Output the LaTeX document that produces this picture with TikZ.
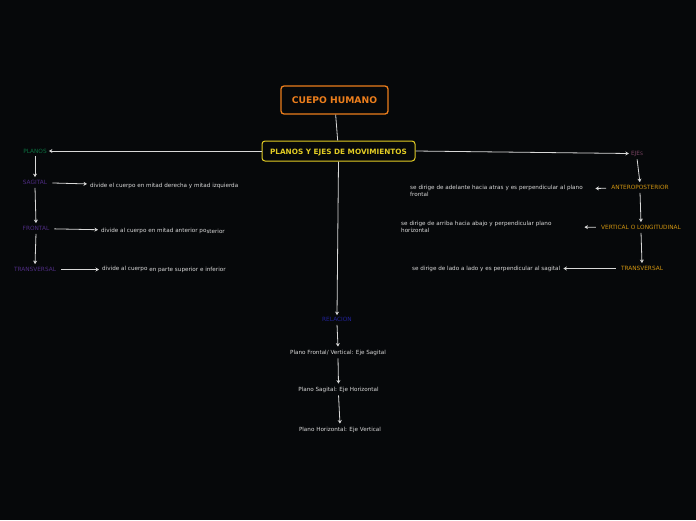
\documentclass[tikz,border=0pt]{standalone}
\usepackage{fontspec}
\setmainfont{DejaVu Sans}
\usepackage{tikz}
\usetikzlibrary{arrows.meta, positioning}

\definecolor{bgdark}{HTML}{06080A}
\definecolor{orangeT}{HTML}{EC7E1C}
\definecolor{yellowT}{HTML}{E2CC24}
\definecolor{greenT}{HTML}{0B7040}
\definecolor{purpleT}{HTML}{4E2C82}
\definecolor{mauveT}{HTML}{7A4462}
\definecolor{goldT}{HTML}{D09410}
\definecolor{blueT}{HTML}{22229A}
\definecolor{greyT}{HTML}{D8D8D8}

\begin{document}
\begin{tikzpicture}[
    x=1pt, y=-1pt,
    every node/.style={align=center, inner sep=2pt},
    title/.style={draw=orangeT, line width=1.3pt, rounded corners=3pt, text=orangeT, font=\fontsize{9.2}{10}\selectfont\bfseries, minimum width=107pt, minimum height=28pt},
    topic/.style={draw=yellowT, line width=1pt, rounded corners=3pt, text=yellowT, font=\fontsize{7.3}{8}\selectfont\bfseries, minimum width=153pt, minimum height=20pt, text height=6pt, text depth=0pt},
    lbl/.style={font=\fontsize{5.8}{7}\selectfont, yshift=-1pt},
    desc/.style={text=greyT, font=\fontsize{5.65}{7}\selectfont, align=left, yshift=-1pt},
    arrow/.style={-{Stealth[length=3.5pt,width=4pt]}, greyT, line width=0.8pt},
    link/.style={greyT, line width=0.8pt}
]
    % Background
    \fill[bgdark] (0,0) rectangle (696,520);
    \useasboundingbox (0,0) rectangle (696,520);

    % Main
    \node[title] (cuerpo) at (334.5,100) {CUEPO HUMANO};
    \node[topic] (planosejes) at (338.5,151) {PLANOS Y EJES DE MOVIMIENTOS};
    \draw[link] (cuerpo) -- (planosejes);

    % Planos
    \node[lbl, text=greenT] (planos) at (35,150) {PLANOS};
    \node[lbl, text=purpleT] (sagital) at (35,181.5) {SAGITAL};
    \node[lbl, text=purpleT] (frontal) at (36,227.5) {FRONTAL};
    \node[lbl, text=purpleT] (transv) at (35,268.5) {TRANSVERSAL};

    \node[desc, anchor=west] (sag_d) at (88,185) {divide el cuerpo en mitad derecha y mitad izquierda};
    \node[desc, anchor=west] (fro_d) at (99,230) {divide al cuerpo en mitad anterior po\raisebox{-0.8pt}{sterior}};
    \node[desc, anchor=west] (tra_d) at (100,268.5) {divide al cuerpo \raisebox{-0.6pt}{en parte superior e inferior}};

    % Ejes
    \node[lbl, text=mauveT] (ejes) at (637,152.5) {EJE{\fontsize{4.6}{5}\selectfont S}};
    \node[lbl, text=goldT] (antero) at (640,186.5) {ANTEROPOSTERIOR};
    \node[lbl, text=goldT] (vertical) at (641,226.5) {VERTICAL O LONGITUDINAL};
    \node[lbl, text=goldT] (transe) at (642,267.5) {TRANSVERSAL};

    \node[desc, anchor=west, text width=182pt] (ant_d) at (408,189.5) {se dirige de adelante hacia atras y es perpendicular al plano\\frontal};
    \node[desc, anchor=west, text width=180pt] (ver_d) at (399,225.5) {se dirige de arriba hacia abajo y perpendicular plano\\horizontal};
    \node[desc, anchor=west] (tre_d) at (410,267.5) {se dirige de lado a lado y es perpendicular al sagital};

    % Relacion
    \node[lbl, text=blueT] (relacion) at (337,318.5) {RELACION};
    \node[desc] (rel1) at (338,351.5) {Plano Frontal/ Vertical: Eje Sagital};
    \node[desc] (rel2) at (338.5,388.5) {Plano Sagital: Eje Horizontal};
    \node[desc] (rel3) at (340,428.5) {Plano Horizontal: Eje Vertical};

    % Connections
    \draw[arrow] (planosejes.west) -- (planos.east);
    \draw[arrow] (planosejes.east) -- (ejes.west);
    \draw[arrow] (planosejes.south) -- (relacion.north);
    \foreach \i/\j in {planos/sagital, sagital/frontal, frontal/transv, ejes/antero, antero/vertical, vertical/transe, relacion/rel1, rel1/rel2, rel2/rel3} {
        \draw[arrow, shorten <=1pt, shorten >=1pt] (\i.south) -- (\j.north);
    }
    \foreach \i/\j in {sagital/sag_d, frontal/fro_d, transv/tra_d, antero/ant_d, vertical/ver_d, transe/tre_d} {
        \draw[arrow, shorten <=3pt, shorten >=1pt] (\i) -- (\j);
    }
\end{tikzpicture}
\end{document}
